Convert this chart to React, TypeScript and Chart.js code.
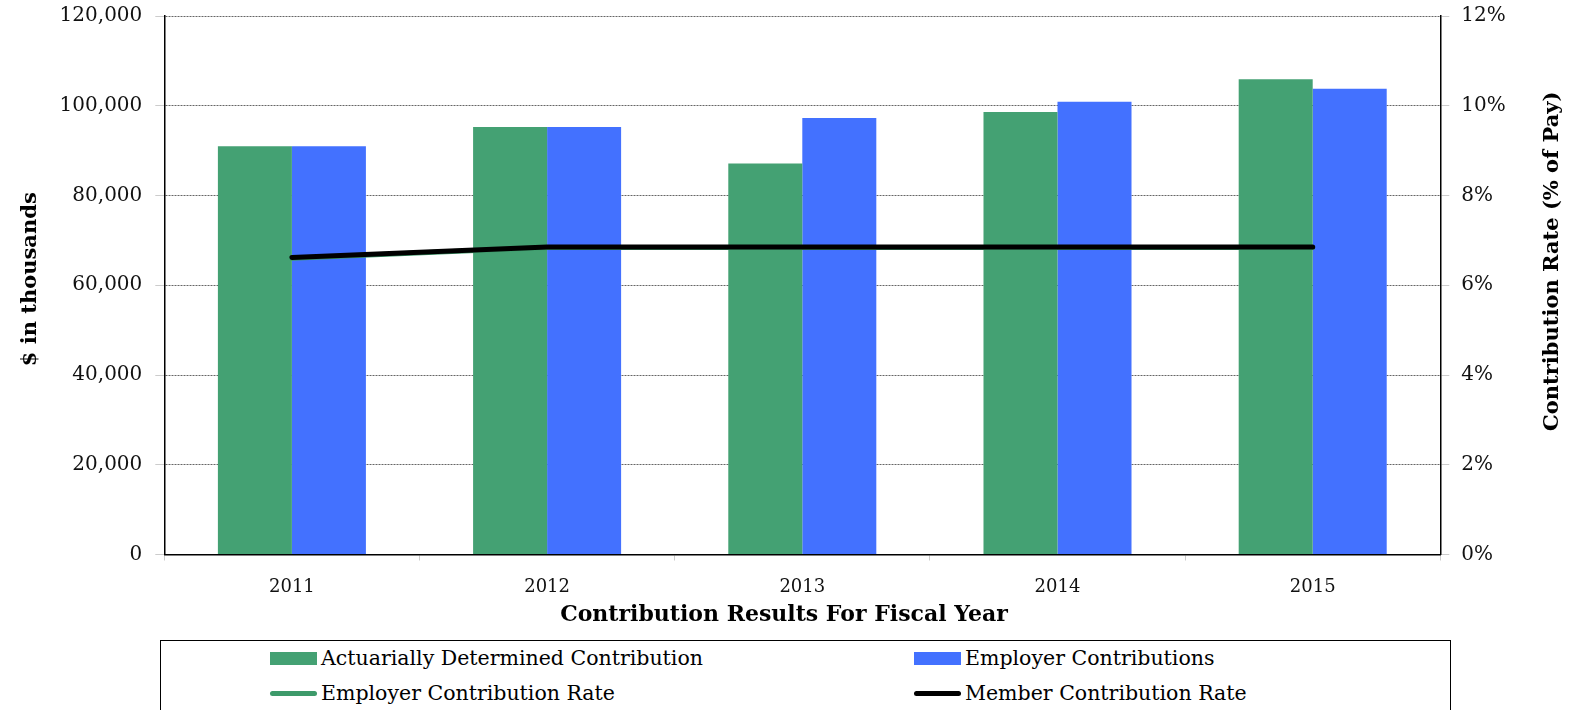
import React, { useEffect, useRef } from "react";
import { Chart, registerables } from "chart.js";

Chart.register(...registerables);

const categories = ["2011", "2012", "2013", "2014", "2015"];
const actuariallyDetermined = [91000, 95250, 87150, 98600, 105900];
const employerContributions = [91000, 95250, 97250, 100900, 103800];
const employerRate = [6.6, 6.84, 6.84, 6.84, 6.84];
const memberRate = [6.62, 6.85, 6.85, 6.85, 6.85];
const leftTicks = [0, 20000, 40000, 60000, 80000, 100000, 120000];
const rightTicks = [0, 2, 4, 6, 8, 10, 12];

const xTitle = "Contribution Results For Fiscal Year";
const yTitle = "$ in thousands";
const y1Title = "Contribution Rate (% of Pay)";

const GREEN = "#44a173";
const GREEN_LINE = "#3d9a6a";
const BLUE = "#4371ff";
const FONT = "'DejaVu Serif', serif";

const legendItems = [
  { label: "Actuarially Determined Contribution", color: GREEN, kind: "box", x: 270, y: 658 },
  { label: "Employer Contributions", color: BLUE, kind: "box", x: 914, y: 658 },
  { label: "Employer Contribution Rate", color: GREEN_LINE, kind: "line", x: 270, y: 693 },
  { label: "Member Contribution Rate", color: "#000", kind: "line", x: 914, y: 693 },
];

const axisTitles = {
  id: "axisTitles",
  afterDraw(chart: any) {
    const { ctx, chartArea } = chart;
    ctx.save();
    ctx.fillStyle = "#000";
    ctx.textAlign = "center";
    ctx.textBaseline = "middle";
    // x title
    ctx.font = `bold 22px ${FONT}`;
    ctx.fillText(xTitle, 784, 615);
    // left title
    ctx.font = `bold 21px ${FONT}`;
    ctx.save();
    ctx.translate(chartArea.left - 134, (chartArea.top + chartArea.bottom) / 2 - 6);
    ctx.rotate(-Math.PI / 2);
    ctx.fillText(yTitle, 0, 0);
    ctx.restore();
    // right title
    ctx.save();
    ctx.translate(chartArea.right + 112, (chartArea.top + chartArea.bottom) / 2 - 24);
    ctx.rotate(-Math.PI / 2);
    ctx.fillText(y1Title, 0, 0);
    ctx.restore();
    ctx.restore();
  },
};

export default function App() {
  const canvasRef = useRef<HTMLCanvasElement | null>(null);

  useEffect(() => {
    const canvas = canvasRef.current;
    if (!canvas) return;
    const chart = new Chart(canvas, {
      type: "bar",
      data: {
        labels: categories,
        datasets: [
          {
            type: "line",
            label: "Member Contribution Rate",
            data: memberRate,
            yAxisID: "y1",
            borderColor: "#000",
            backgroundColor: "#000",
            borderWidth: 5,
            pointRadius: 0,
            borderCapStyle: "round",
            order: 1,
          },
          {
            type: "line",
            label: "Employer Contribution Rate",
            data: employerRate,
            yAxisID: "y1",
            borderColor: GREEN_LINE,
            backgroundColor: GREEN_LINE,
            borderWidth: 5,
            pointRadius: 0,
            borderCapStyle: "round",
            order: 2,
          },
          {
            type: "bar",
            label: "Actuarially Determined Contribution",
            data: actuariallyDetermined,
            yAxisID: "y",
            backgroundColor: GREEN,
            borderWidth: 0,
            barPercentage: 1,
            categoryPercentage: 0.58,
            order: 3,
          },
          {
            type: "bar",
            label: "Employer Contributions",
            data: employerContributions,
            yAxisID: "y",
            backgroundColor: BLUE,
            borderWidth: 0,
            barPercentage: 1,
            categoryPercentage: 0.58,
            order: 3,
          },
        ] as any,
      },
      options: {
        responsive: false,
        animation: false,
        layout: { padding: { left: 0, right: 0, top: 16, bottom: 0 } },
        plugins: {
          legend: { display: false },
          tooltip: { enabled: false },
        },
        scales: {
          x: {
            grid: {
              offset: true,
              drawOnChartArea: false,
              drawTicks: true,
              tickLength: 6,
              color: "#cccccc",
            },
            border: { display: true, color: "#000", width: 1.5 },
            ticks: { color: "#111", font: { family: FONT, size: 18 }, padding: 16 },
            title: { display: false },
            afterFit: (scale: any) => {
              scale.height = 85.5;
              scale.paddingLeft = 0;
              scale.paddingRight = 0;
            },
          },
          y: {
            position: "left",
            min: 0,
            max: 120000,
            afterBuildTicks: (scale: any) => {
              scale.ticks = leftTicks.map((v) => ({ value: v }));
            },
            grid: {
              color: "#666",
              lineWidth: 1,
              tickLength: 9,
              tickColor: "#cccccc",
            } as any,
            border: { display: true, color: "#000", width: 1.5, dash: [2, 1] } as any,
            ticks: {
              color: "#111",
              font: { family: FONT, size: 20 },
              padding: 13,
              callback: (v: any) => Number(v).toLocaleString("en-US"),
            },
            title: { display: false },
            afterFit: (scale: any) => {
              scale.width = 164.3;
              scale.paddingTop = 0;
              scale.paddingBottom = 0;
            },
          },
          y1: {
            position: "right",
            min: 0,
            max: 12,
            afterBuildTicks: (scale: any) => {
              scale.ticks = rightTicks.map((v) => ({ value: v }));
            },
            grid: {
              drawOnChartArea: false,
              tickLength: 9,
              color: "#cccccc",
            },
            border: { display: true, color: "#000", width: 1.5 },
            ticks: {
              color: "#111",
              font: { family: FONT, size: 20 },
              padding: 12,
              callback: (v: any) => v + "%",
            },
            title: { display: false },
            afterFit: (scale: any) => {
              scale.width = 138.7;
              scale.paddingTop = 0;
              scale.paddingBottom = 0;
            },
          },
        },
      },
      plugins: [axisTitles],
    });
    return () => chart.destroy();
  }, []);

  return (
    <div
      style={{
        position: "fixed",
        left: 0,
        top: 0,
        width: 1579,
        height: 710,
        background: "#fff",
        overflow: "hidden",
        fontFamily: FONT,
      }}
    >
      <canvas ref={canvasRef} width={1579} height={640} style={{ display: "block" }} />
      <div
        style={{
          position: "absolute",
          left: 160,
          top: 640,
          width: 1291,
          height: 100,
          border: "1.5px solid #000",
          boxSizing: "border-box",
        }}
      />
      {legendItems.map((it) => (
        <div
          key={it.label}
          style={{
            position: "absolute",
            left: it.x,
            top: it.y - 14,
            height: 28,
            display: "flex",
            alignItems: "center",
            whiteSpace: "nowrap",
            fontSize: 20.5,
            color: "#000",
          }}
        >
          <span
            style={{
              display: "inline-block",
              width: 47,
              height: it.kind === "box" ? 13 : 5,
              borderRadius: it.kind === "box" ? 0 : 3,
              background: it.color,
              marginRight: 4,
            }}
          />
          <span>{it.label}</span>
        </div>
      ))}
    </div>
  );
}
